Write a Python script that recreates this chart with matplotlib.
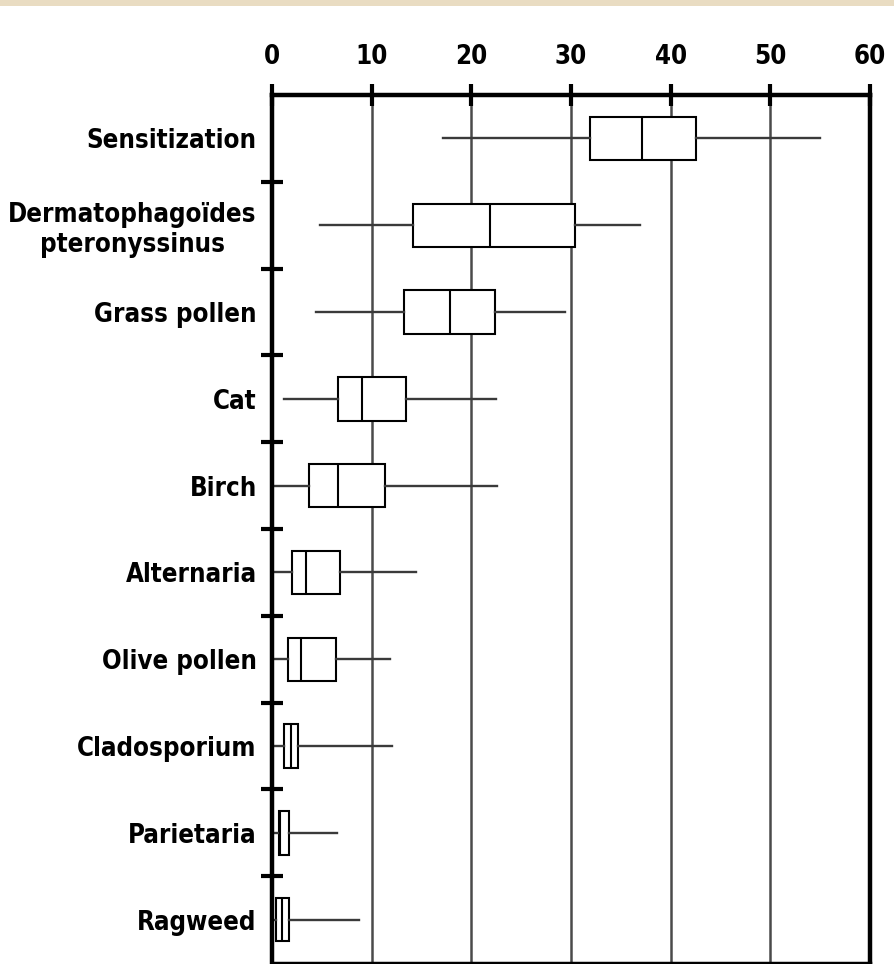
import matplotlib
matplotlib.use("Agg")
import matplotlib.pyplot as plt
from matplotlib.patches import Rectangle
from matplotlib.font_manager import FontProperties

categories = ["Sensitization", "Dermatophagoïdes\npteronyssinus", "Grass pollen", "Cat",
              "Birch", "Alternaria", "Olive pollen", "Cladosporium", "Parietaria", "Ragweed"]
whisker_low = [17.2, 4.8, 4.4, 1.2, 0.0, 0.2, 0.2, 0.2, 0.1, 0.1]
q1 = [31.9, 14.1, 13.2, 6.6, 3.7, 2.0, 1.6, 1.25, 0.67, 0.4]
median = [37.1, 21.9, 17.9, 9.0, 6.6, 3.4, 2.9, 1.9, 0.85, 1.0]
q3 = [42.5, 30.4, 22.4, 13.4, 11.3, 6.8, 6.4, 2.6, 1.68, 1.68]
whisker_high = [55.0, 36.9, 29.4, 22.5, 22.6, 14.4, 11.8, 12.0, 6.5, 8.75]
x_ticks = [0, 10, 20, 30, 40, 50, 60]

plt.rcParams['font.family'] = ['DejaVu Sans']
label_font = FontProperties(family='DejaVu Sans', stretch='condensed', weight='bold', size=18.5)

fig = plt.figure(figsize=(8.94, 9.64), dpi=100)
fig.patch.set_facecolor('white')

# decorative beige band at top
fig.add_artist(Rectangle((0, 1 - 6/964), 1, 6/964, transform=fig.transFigure,
                         facecolor='#e9dcc2', edgecolor='none'))

ax = fig.add_axes([272/894, 1/964, (870-272)/894, (963-95)/964])

stats = []
for i in range(len(categories)):
    stats.append(dict(med=median[i], q1=q1[i], q3=q3[i],
                      whislo=whisker_low[i], whishi=whisker_high[i], fliers=[]))

positions = list(range(len(categories)))
ax.bxp(stats, positions=positions, vert=False, widths=0.5, showcaps=False,
       showfliers=False, patch_artist=True,
       boxprops=dict(facecolor='white', edgecolor='black', linewidth=1.5),
       medianprops=dict(color='black', linewidth=1.5),
       whiskerprops=dict(color='#3a3a3a', linewidth=1.7),
       zorder=3)

ax.set_xlim(0, 60)
ax.set_ylim(len(categories) - 0.5, -0.5)

for x in x_ticks[1:-1]:
    ax.axvline(x, color='#4a4a4a', linewidth=1.8, zorder=1)

ax.xaxis.tick_top()
ax.set_xticks(x_ticks)
ax.set_xticklabels([str(v) for v in x_ticks])
for t in ax.get_xticklabels():
    t.set_fontproperties(label_font)
ax.tick_params(axis='x', which='major', direction='inout', length=16, width=3,
               pad=10, top=True, bottom=False)

ax.set_yticks(positions)
ax.set_yticklabels(categories, multialignment='center')
for t in ax.get_yticklabels():
    t.set_fontproperties(label_font)
ax.tick_params(axis='y', which='major', length=0, pad=11)
ax.set_yticks([p + 0.5 for p in positions[:-1]], minor=True)
ax.tick_params(axis='y', which='minor', direction='inout', length=16, width=3)

for side in ['top', 'left', 'right']:
    ax.spines[side].set_linewidth(3.2)
ax.spines['bottom'].set_linewidth(2.5)
for s in ax.spines.values():
    s.set_color('black')
    s.set_zorder(5)

fig.savefig('out.png', dpi=100)
